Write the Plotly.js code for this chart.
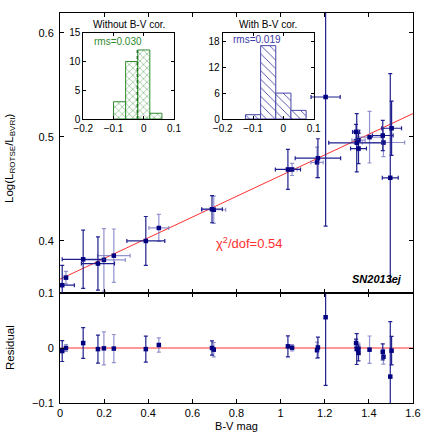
<!DOCTYPE html>
<html><head><meta charset="utf-8">
<script src="https://cdn.plot.ly/plotly-3.0.1.min.js"></script>
<style>body{margin:0;padding:0;background:#fff}#plot{width:436px;height:436px}</style>
</head><body><div id="plot"></div>
<script>
// ---- data ----
const bvX   = [0.010,0.027,0.105,0.172,0.199,0.244,0.389,0.448,0.689,0.697,1.033,1.052,1.169,1.165,1.204,1.342,1.345,1.353,1.353,1.403,1.463,1.466,1.503,1.497];
const logY  = [0.3575,0.3648,0.3824,0.3783,0.3818,0.3859,0.4000,0.4125,0.4305,0.4300,0.4687,0.4687,0.4795,0.4755,0.5383,0.5048,0.4943,0.4968,0.4888,0.4997,0.5013,0.4946,0.5083,0.4607];
const xErr  = [0.055,0.008,0.095,0.075,0.097,0.074,0.086,0.045,0.047,0.054,0.057,0.023,0.103,0.028,0.066,0.016,0.127,0.030,0.036,0.054,0.047,0.096,0.045,0.036];
const yErr  = [0.019,0.006,0.028,0.0256,0.030,0.0256,0.0235,0.013,0.013,0.013,0.0192,0.0058,0.0187,0.0147,0.124,0.0072,0.028,0.010,0.0145,0.0248,0.0145,0.0136,0.026,0.100];
const resid = [-0.0055,0.0,0.009,-0.002,-0.0006,-0.001,-0.002,0.0055,0.0,-0.003,0.003,0.0006,0.001,-0.004,0.056,0.009,-0.002,-0.001,-0.009,-0.003,-0.007,-0.0158,-0.0048,-0.052];
const shade = [0,1,0,0,1,1,0,1,0,1,0,1,0,1,0,0,0,1,0,1,0,1,0,0]; // 0 dark bars, 1 light bars
const fitX  = [0, 1.6];
const fitY  = [0.3633, 0.5224];
const zeroY = [0, 0];

const hist1Centers = [-0.08,-0.04,0.0,0.04];
const hist1Counts  = [3,10,12,1];
const hist2Centers = [-0.10,-0.05,0.0,0.05];
const hist2Counts  = [1,17,6,2];
const hist1Mean    = -0.021;

const mainTicks  = [0.4,0.5,0.6];
const residTicks = [-0.1,0,0.1];
const inTicksX   = [-0.2,-0.1,0,0.1];
const in1TicksY  = [0,5,10,15];
const in2TicksY  = [0,6,12,18];

// ---- helpers ----
const NAVY = '#000080';
const DARK = '#20208f';
const LIGHT = 'rgba(110,110,190,0.75)';
function pick(arr, s){ return arr.filter((v,i)=>shade[i]===s); }
function ptTrace(xa, ya, yvals, s, withX){
  const t = {type:'scatter', mode:'markers', xaxis:xa, yaxis:ya,
    x: pick(bvX,s), y: pick(yvals,s),
    marker:{symbol:'square', size:4.5, color:NAVY},
    error_y:{type:'data', array: pick(yErr,s), color: s?LIGHT:DARK, thickness:1.2, width:2},
    showlegend:false, hoverinfo:'skip'};
  if (withX) t.error_x = {type:'data', array: pick(xErr,s), color: s?LIGHT:DARK, thickness:1.2, width:2};
  return t;
}
const RED = '#ff3030';
const traces = [
  {type:'scatter', mode:'lines', x:fitX, y:fitY, xaxis:'x2', yaxis:'y2', line:{color:RED, width:1}, showlegend:false},
  {type:'scatter', mode:'lines', x:fitX, y:zeroY, xaxis:'x', yaxis:'y', line:{color:RED, width:1}, showlegend:false},
  ptTrace('x2','y2',logY,1,true), ptTrace('x2','y2',logY,0,true),
  ptTrace('x','y',resid,1,false), ptTrace('x','y',resid,0,false),
  {type:'bar', x:hist1Centers, y:hist1Counts, width:0.04, xaxis:'x3', yaxis:'y3',
    marker:{color:'white', line:{color:'#2e8b2e', width:1},
      pattern:{shape:'x', fgcolor:'#2e8b2e', bgcolor:'white', size:5, solidity:0.15}}, showlegend:false},
  {type:'scatter', mode:'lines', x:[hist1Mean,hist1Mean], y:[0,12], xaxis:'x3', yaxis:'y3',
    line:{color:'#1d6e1d', width:1.6, dash:'dot'}, showlegend:false},
  {type:'bar', x:hist2Centers, y:hist2Counts, width:0.05, xaxis:'x4', yaxis:'y4',
    marker:{color:'white', line:{color:'#4646a8', width:1},
      pattern:{shape:'\\', fgcolor:'#4646a8', bgcolor:'white', size:6, solidity:0.15}}, showlegend:false}
];

const FONT = 'Liberation Sans, Arial, sans-serif';
const axBase = {showline:true, linecolor:'black', linewidth:1, mirror:'ticks', ticks:'inside',
  ticklen:4, tickcolor:'black', showgrid:false, zeroline:false, tickfont:{size:11, color:'black'}};
const W = 353, H = 390, L = 60, T = 13;
function px(x){ return (x-L)/W; }
function py(y){ return (T+H-y)/H; }
const inset = {showline:true, linecolor:'black', linewidth:1, mirror:'ticks', ticks:'inside',
  ticklen:3, tickcolor:'black', showgrid:false, zeroline:false, tickfont:{size:10, color:'black'}, fixedrange:true};

const layout = {
  width:436, height:436, margin:{l:L, r:23, t:T, b:33},
  paper_bgcolor:'white', plot_bgcolor:'rgba(0,0,0,0)',
  font:{family:FONT, color:'black', size:11},
  bargap:0,
  xaxis: Object.assign({}, axBase, {domain:[0,1], range:[0,1.6], dtick:0.2, anchor:'y',
     title:{text:'B-V mag', font:{size:11}, standoff:4}}),
  yaxis: Object.assign({}, axBase, {domain:[0,0.282], range:[-0.1,0.1], tickvals:residTicks, anchor:'x', ticklabelstandoff:3}),
  xaxis2: Object.assign({}, axBase, {domain:[0,1], range:[0,1.6], dtick:0.2, anchor:'y2', showticklabels:false, matches:'x'}),
  yaxis2: Object.assign({}, axBase, {domain:[0.282,1], range:[0.35,0.619], tickvals:mainTicks, anchor:'x2', ticklabelstandoff:3}),
  xaxis3: Object.assign({}, inset, {domain:[px(83.3), px(174)], range:[-0.2,0.1], tickvals:inTicksX, anchor:'y3'}),
  yaxis3: Object.assign({}, inset, {domain:[py(119), py(32.7)], range:[0,15], tickvals:in1TicksY, anchor:'x3'}),
  xaxis4: Object.assign({}, inset, {domain:[px(222.7), px(313.7)], range:[-0.2,0.1], tickvals:inTicksX, anchor:'y4'}),
  yaxis4: Object.assign({}, inset, {domain:[py(119), py(32.7)], range:[0,20], tickvals:in2TicksY, anchor:'x4'}),
  annotations:[
    {xref:'paper', yref:'paper', x:px(10), y:py(158), text:'Log(L<sub>ROTSE</sub>/L<sub>BVRI</sub>)', textangle:-90, showarrow:false, font:{size:11.5}, xanchor:'center', yanchor:'middle'},
    {xref:'paper', yref:'paper', x:px(10), y:py(348), text:'Residual', textangle:-90, showarrow:false, font:{size:11.5}, xanchor:'center', yanchor:'middle'},
    {xref:'paper', yref:'paper', x:px(128.7), y:py(24), text:'Without B-V cor.', showarrow:false, font:{size:10}, xanchor:'center', yanchor:'middle'},
    {xref:'paper', yref:'paper', x:px(268), y:py(24), text:'With B-V cor.', showarrow:false, font:{size:10}, xanchor:'center', yanchor:'middle'},
    {xref:'paper', yref:'paper', x:px(92), y:py(41.5), text:'rms=0.030', showarrow:false, font:{size:10, color:'#2e8b2e'}, xanchor:'left', yanchor:'middle'},
    {xref:'paper', yref:'paper', x:px(231), y:py(40), text:'rms=0.019', showarrow:false, font:{size:10, color:'#3a3aa8'}, xanchor:'left', yanchor:'middle'},
    {xref:'paper', yref:'paper', x:px(214), y:py(243), text:'χ<sup>2</sup>/dof=0.54', showarrow:false, font:{size:13, color:RED}, xanchor:'left', yanchor:'middle'},
    {xref:'paper', yref:'paper', x:px(404), y:py(279), text:'<b><i>SN2013ej</i></b>', showarrow:false, font:{size:11, color:'black'}, xanchor:'right', yanchor:'middle'}
  ]
};
Plotly.newPlot('plot', traces, layout, {staticPlot:true, displayModeBar:false});
</script></body></html>
